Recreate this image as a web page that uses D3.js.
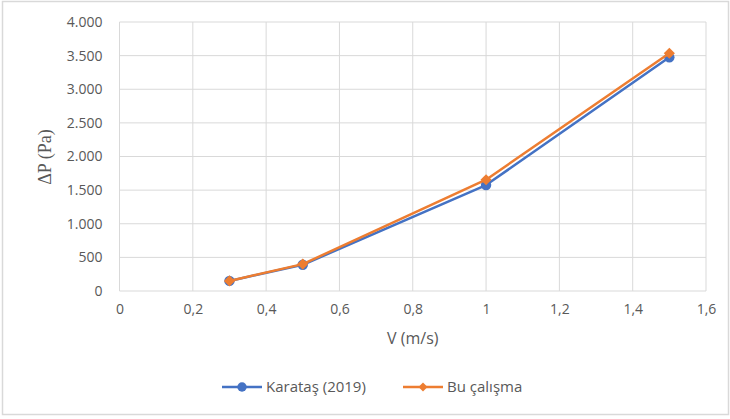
<!DOCTYPE html>
<html>
<head>
<meta charset="utf-8">
<script src="https://cdn.jsdelivr.net/npm/d3@7"></script>
<style>
  body { margin: 0; background: #fff; }
  text { font-family: "Open Sans", "Noto Sans", sans-serif; }
</style>
</head>
<body>
<div id="chart"></div>
<script>
// data
const speeds = [0.3, 0.5, 1, 1.5];
const karatas = [150, 390, 1575, 3475];
const buCalisma = [150, 400, 1655, 3535];
const seriesNames = ["Karataş (2019)", "Bu çalışma"];
const xTicks = [0, 0.2, 0.4, 0.6, 0.8, 1, 1.2, 1.4, 1.6];
const yTicks = [0, 500, 1000, 1500, 2000, 2500, 3000, 3500, 4000];

const W = 730, H = 419;
const margin = { top: 22, right: 24, bottom: 128, left: 119.5 };
const width = W - margin.left - margin.right;   // plot width
const height = 291 - margin.top;

const svg = d3.select("#chart").append("svg")
  .attr("width", W).attr("height", H);

// outer chart frame
svg.append("rect")
  .attr("x", 2.5).attr("y", 1.5)
  .attr("width", W - 4).attr("height", 413)
  .attr("fill", "#fff").attr("stroke", "#d9d9d9").attr("stroke-width", 1.5);

const g = svg.append("g").attr("transform", `translate(${margin.left},${margin.top})`);

const x = d3.scaleLinear().domain([0, 1.6]).range([0, width]);
const y = d3.scaleLinear().domain([0, 4000]).range([height, 0]);

// grid
g.append("g").selectAll("line").data(yTicks).enter().append("line")
  .attr("x1", 0).attr("x2", width)
  .attr("y1", d => y(d)).attr("y2", d => y(d))
  .attr("stroke", "#d9d9d9").attr("stroke-width", 1);
g.append("g").selectAll("line").data(xTicks).enter().append("line")
  .attr("x1", d => x(d)).attr("x2", d => x(d))
  .attr("y1", 0).attr("y2", height)
  .attr("stroke", "#d9d9d9").attr("stroke-width", 1);

// axes (labels only, Excel style)
const fmtY = d => d3.format(",")(d).replace(/,/g, ".");
const fmtX = d => String(+d.toFixed(1)).replace(".", ",");

const yAxis = g.append("g")
  .call(d3.axisLeft(y).tickValues(yTicks).tickFormat(fmtY).tickSize(0).tickPadding(17));
yAxis.select(".domain").remove();
yAxis.selectAll("text").attr("fill", "#595959").style("font-size", "14px");

const xAxis = g.append("g").attr("transform", `translate(0,${height})`)
  .call(d3.axisBottom(x).tickValues(xTicks).tickFormat(fmtX).tickSize(0).tickPadding(13));
xAxis.select(".domain").remove();
xAxis.selectAll("text").attr("fill", "#595959").style("font-size", "14px");

// axis titles
svg.append("text")
  .attr("x", margin.left + x(0.8)).attr("y", 344)
  .attr("text-anchor", "middle")
  .attr("fill", "#595959")
  .style("font-size", "16px")
  .text("V (m/s)");

svg.append("text")
  .attr("transform", "translate(51,157) rotate(-90)")
  .attr("text-anchor", "middle")
  .attr("fill", "#595959")
  .style("font-family", "'Liberation Serif', 'DejaVu Serif', serif")
  .style("font-size", "18px")
  .text("ΔP (Pa)");

const line = d3.line().x(d => x(d[0])).y(d => y(d[1]));
const series = [
  { name: seriesNames[0], values: karatas, color: "#4472c4", marker: "circle" },
  { name: seriesNames[1], values: buCalisma, color: "#ed7d31", marker: "diamond" }
];

const circle = d3.symbol().type(d3.symbolCircle).size(85);
const diamond = d3.symbol().type(d3.symbolSquare).size(62);

series.forEach(s => {
  const pts = speeds.map((v, i) => [v, s.values[i]]);
  g.append("path")
    .attr("d", line(pts))
    .attr("fill", "none")
    .attr("stroke", s.color)
    .attr("stroke-width", 2.5)
    .attr("stroke-linejoin", "round");
  g.selectAll(null).data(pts).enter().append("path")
    .attr("d", s.marker === "circle" ? circle() : diamond())
    .attr("transform", d => `translate(${x(d[0])},${y(d[1])})` + (s.marker === "circle" ? "" : " rotate(45)"))
    .attr("fill", s.color);
});

// legend
const legendItems = [
  { x: 222, textX: 266 },
  { x: 403, textX: 447 }
];
series.forEach((s, i) => {
  const lg = svg.append("g");
  const lx = legendItems[i].x, ly = 387;
  lg.append("line")
    .attr("x1", lx).attr("x2", lx + 40)
    .attr("y1", ly).attr("y2", ly)
    .attr("stroke", s.color).attr("stroke-width", 2.5);
  lg.append("path")
    .attr("d", s.marker === "circle" ? d3.symbol().type(d3.symbolCircle).size(70)() : d3.symbol().type(d3.symbolSquare).size(40)())
    .attr("transform", `translate(${lx + 20},${ly})` + (s.marker === "circle" ? "" : " rotate(45)"))
    .attr("fill", s.color);
  lg.append("text")
    .attr("x", legendItems[i].textX).attr("y", ly + 5)
    .attr("fill", "#595959")
    .style("font-size", "15px")
    .text(s.name);
});
</script>
</body>
</html>
